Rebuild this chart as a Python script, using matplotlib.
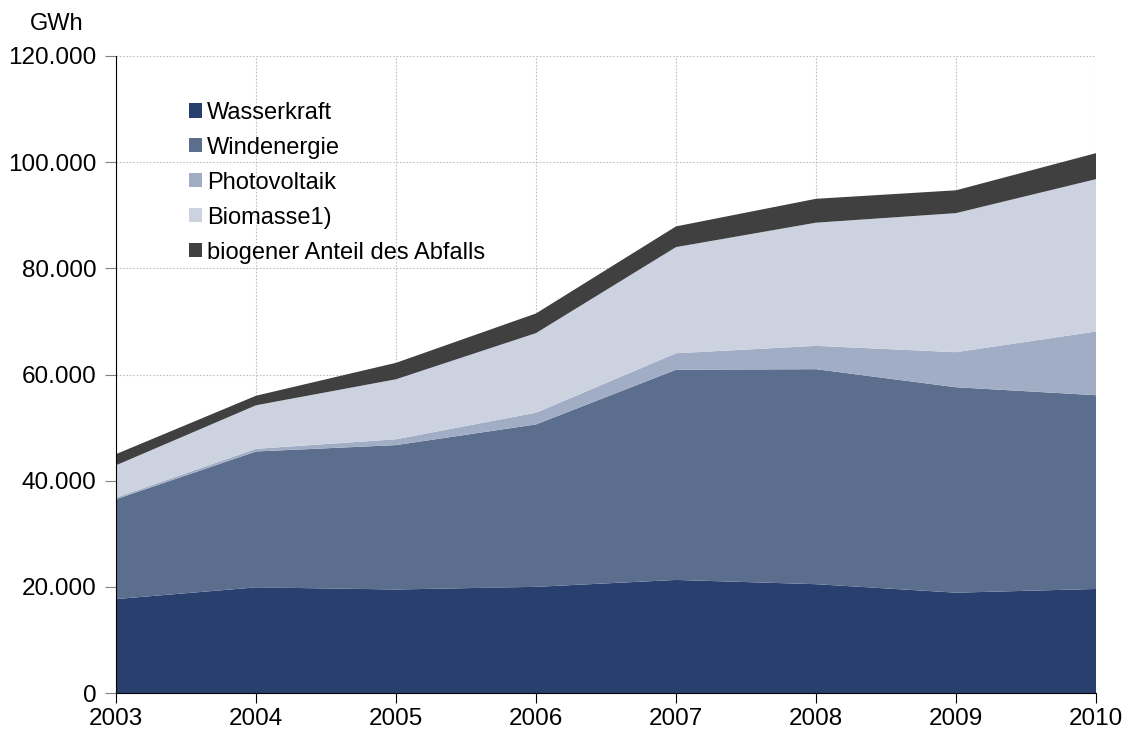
import numpy as np
import matplotlib.pyplot as plt
from matplotlib.ticker import FuncFormatter

plt.rcParams['font.family'] = ['Liberation Sans', 'DejaVu Sans']

jahre = [2003, 2004, 2005, 2006, 2007, 2008, 2009, 2010]
wasserkraft = [17700, 19900, 19500, 20000, 21300, 20500, 18900, 19600]
windenergie = [18800, 25600, 27200, 30600, 39600, 40500, 38700, 36500]
photovoltaik = [300, 500, 1100, 2200, 3100, 4400, 6600, 12000]
biomasse = [6100, 8200, 11300, 15000, 20000, 23200, 26200, 28700]
abfall = [2100, 1800, 3100, 3700, 3900, 4500, 4300, 4900]

namen = ['Wasserkraft', 'Windenergie', 'Photovoltaik', 'Biomasse1)',
         'biogener Anteil des Abfalls']
farben = ['#293F6E', '#5C6E8E', '#A1ADC4', '#CCD2DF', '#404040']

fig = plt.figure(figsize=(11.27, 7.33), dpi=100)
ax = fig.add_axes([116/1127, 40/733, 980/1127, 637/733])

ax.stackplot(jahre, wasserkraft, windenergie, photovoltaik, biomasse, abfall,
             labels=namen, colors=farben, linewidth=0)

ax.set_xlim(2003, 2010)
ax.set_ylim(0, 120000)
ax.set_xticks(jahre)
ax.set_yticks(np.arange(0, 120001, 20000))
ax.yaxis.set_major_formatter(FuncFormatter(lambda v, p: f'{v:,.0f}'.replace(',', '.')))

ax.set_axisbelow(True)
ax.grid(True, color='#c0c0c0', linestyle=(0, (1.5, 1.5)), linewidth=0.8)

ax.spines['top'].set_visible(False)
ax.spines['right'].set_visible(False)
ax.spines['left'].set_color('black')
ax.spines['bottom'].set_color('black')
ax.tick_params(axis='y', colors='#808080', labelcolor='black', length=8,
               labelsize=17.5, pad=6)
ax.tick_params(axis='x', color='black', length=7, labelsize=17.5, pad=4)

ax.legend(loc='upper left', bbox_to_anchor=(0.065, 0.943), frameon=False,
          fontsize=17, handlelength=0.55, handleheight=0.55,
          handletextpad=0.2, labelspacing=0.55, borderaxespad=0)

fig.text(57/1127, 1 - 24/733, 'GWh', fontsize=17, ha='center', va='center')

fig.savefig('out.png', dpi=100)
